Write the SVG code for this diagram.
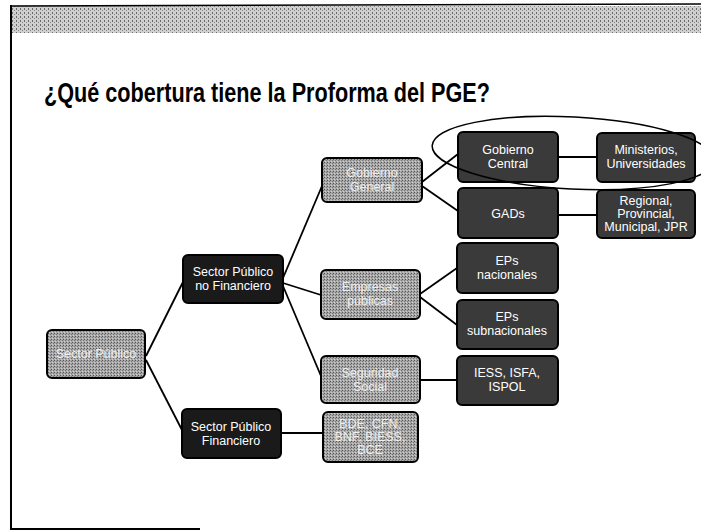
<svg xmlns="http://www.w3.org/2000/svg" width="701" height="531" viewBox="0 0 701 531">
<defs>
<pattern id="dither" width="3" height="3" patternUnits="userSpaceOnUse">
<rect width="3" height="3" fill="#a8a8a8"/>
<rect x="0" y="0" width="1" height="1" fill="#555"/>
<rect x="2" y="1" width="1" height="1" fill="#777"/>
<rect x="1" y="2" width="1" height="1" fill="#d0d0d0"/>
</pattern>
<pattern id="band" width="4" height="4" patternUnits="userSpaceOnUse">
<rect width="4" height="4" fill="#cfcfcf"/>
<rect x="0" y="0" width="1" height="2" fill="#6a6a6a"/>
<rect x="2" y="2" width="1" height="1" fill="#8a8a8a"/>
</pattern>
</defs>
<style>
.n rect{stroke:#000;stroke-width:2}
.g rect{fill:url(#dither)}
.k rect{fill:#1a1a1a}
.d rect{fill:#3a3a3a}
.n text{font-family:"Liberation Sans",Arial,sans-serif;font-size:12.5px;fill:#fff;text-anchor:middle}
.g text{fill:#eeeeee}
#connectors line{stroke:#000;stroke-width:1.8}
</style>
<rect width="701" height="531" fill="#fff"/>
<rect x="12" y="6" width="689" height="27" fill="url(#band)"/>
<line x1="12" y1="6" x2="701" y2="4" stroke="#000" stroke-width="1.5"/>
<line x1="11" y1="5" x2="11" y2="529" stroke="#000" stroke-width="2"/>
<line x1="10" y1="529" x2="200" y2="529" stroke="#000" stroke-width="2"/>
<text x="44" y="102" font-family="Liberation Sans,Arial,sans-serif" font-weight="bold" font-size="27" textLength="446" lengthAdjust="spacingAndGlyphs">¿Qué cobertura tiene la Proforma del PGE?</text>
<g id="connectors">
<line x1="146" y1="356" x2="183" y2="282"/>
<line x1="146" y1="360" x2="182" y2="430"/>
<line x1="283" y1="278" x2="322" y2="186"/>
<line x1="283" y1="283" x2="321" y2="295"/>
<line x1="283" y1="286" x2="321" y2="376"/>
<line x1="422" y1="182" x2="458" y2="154"/>
<line x1="422" y1="186" x2="458" y2="211"/>
<line x1="558" y1="157" x2="597" y2="157"/>
<line x1="558" y1="215" x2="597" y2="215"/>
<line x1="420" y1="294" x2="457" y2="268"/>
<line x1="420" y1="297" x2="457" y2="325"/>
<line x1="420" y1="380" x2="457" y2="380"/>
<line x1="281" y1="433" x2="323" y2="433"/>
</g>
<g id="n-sp" class="n g"><rect x="47" y="330" width="98" height="48" rx="5"/><text x="96" y="358">Sector Público</text></g>
<g id="n-spnf" class="n k"><rect x="183" y="255" width="100" height="48" rx="5"/><text x="233" y="276">Sector Público</text><text x="233" y="290">no Financiero</text></g>
<g id="n-spf" class="n k"><rect x="182" y="409" width="99" height="49" rx="5"/><text x="231" y="431">Sector Público</text><text x="231" y="445">Financiero</text></g>
<g id="n-gg" class="n g"><rect x="322" y="158" width="100" height="44" rx="5"/><text x="372" y="177">Gobierno</text><text x="372" y="191">General</text></g>
<g id="n-ep" class="n g"><rect x="321" y="270" width="99" height="49" rx="5"/><text x="370" y="291">Empresas</text><text x="370" y="305">públicas</text></g>
<g id="n-ss" class="n g"><rect x="321" y="356" width="99" height="47" rx="5"/><text x="370" y="377">Seguridad</text><text x="370" y="391">Social</text></g>
<g id="n-bde" class="n g"><rect x="323" y="412" width="95" height="50" rx="5"/><text x="370" y="428">BDE, CFN,</text><text x="370" y="441">BNF, BIESS,</text><text x="370" y="454">BCE</text></g>
<g id="n-gc" class="n d"><rect x="458" y="132" width="100" height="50" rx="5"/><text x="508" y="154">Gobierno</text><text x="508" y="168">Central</text></g>
<g id="n-gad" class="n d"><rect x="458" y="188" width="100" height="50" rx="5"/><text x="508" y="218">GADs</text></g>
<g id="n-min" class="n d"><rect x="597" y="133" width="98" height="49" rx="5"/><text x="646" y="154">Ministerios,</text><text x="646" y="168">Universidades</text></g>
<g id="n-reg" class="n d"><rect x="597" y="190" width="98" height="48" rx="5"/><text x="646" y="205">Regional,</text><text x="646" y="218">Provincial,</text><text x="646" y="231">Municipal, JPR</text></g>
<g id="n-epn" class="n d"><rect x="457" y="243" width="101" height="50" rx="5"/><text x="507" y="265">EPs</text><text x="507" y="279">nacionales</text></g>
<g id="n-eps" class="n d"><rect x="457" y="300" width="101" height="49" rx="5"/><text x="507" y="321">EPs</text><text x="507" y="335">subnacionales</text></g>
<g id="n-iess" class="n d"><rect x="457" y="356" width="101" height="49" rx="5"/><text x="507" y="377">IESS, ISFA,</text><text x="507" y="391">ISPOL</text></g>
<ellipse id="highlight" cx="573" cy="153" rx="141" ry="36" fill="none" stroke="#000" stroke-width="1.5" transform="rotate(3 573 153)"/>
</svg>
